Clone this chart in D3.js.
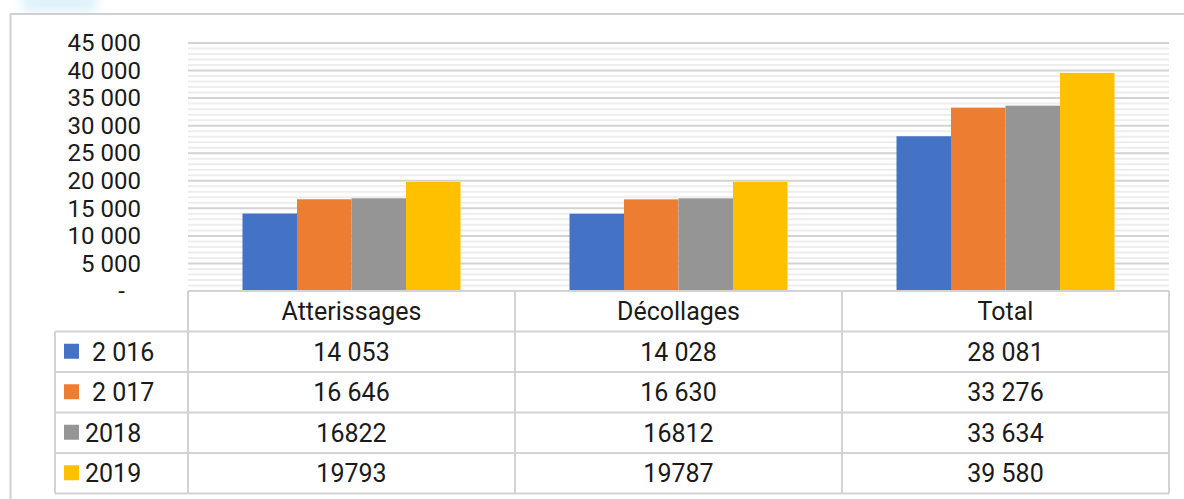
<!DOCTYPE html>
<html>
<head>
<meta charset="utf-8">
<script src="https://cdn.jsdelivr.net/npm/d3@7"></script>
<style>
  body { margin: 0; background: #fff; }
  text { font-family: Roboto, "DejaVu Sans", sans-serif; fill: #1a1a1a; }
</style>
</head>
<body>
<div id="chart"></div>
<script>
var width = 1184;
var height = 499;

// chart data
var categories = ["Atterissages", "Décollages", "Total"];
var years = ["2 016", "2 017", "2018", "2019"];
var colors = ["#4472C4", "#ED7D31", "#959595", "#FFC000"];
var values2016 = [14053, 14028, 28081];
var values2017 = [16646, 16630, 33276];
var values2018 = [16822, 16812, 33634];
var values2019 = [19793, 19787, 39580];
// table texts, as written in the source table
var labels2016 = ["14 053", "14 028", "28 081"];
var labels2017 = ["16 646", "16 630", "33 276"];
var labels2018 = ["16822", "16812", "33 634"];
var labels2019 = ["19793", "19787", "39 580"];
var yTicks = [0, 5000, 10000, 15000, 20000, 25000, 30000, 35000, 40000, 45000];

var series = [values2016, values2017, values2018, values2019];
var tableLabels = [labels2016, labels2017, labels2018, labels2019];

var plotLeft = 188, plotRight = 1169, plotTop = 43, plotBottom = 291;
var rowH = 40.5;
var gridColor = "#d3d3d3";

var svg = d3.select("#chart").append("svg")
  .attr("width", width)
  .attr("height", height);

// faint blue blur top-left
var defs = svg.append("defs");
defs.append("filter").attr("id", "blur")
  .append("feGaussianBlur").attr("stdDeviation", 6);
svg.append("rect")
  .attr("x", 22).attr("y", -10).attr("width", 75).attr("height", 22)
  .attr("fill", "#d6eef9").attr("opacity", 0.8)
  .attr("filter", "url(#blur)");

// outer frame
svg.append("line").attr("x1", 10).attr("x2", width).attr("y1", 14).attr("y2", 14)
  .attr("stroke", "#d0d0d0").attr("stroke-width", 2);
svg.append("line").attr("x1", 10.5).attr("x2", 10.5).attr("y1", 14).attr("y2", height)
  .attr("stroke", "#d0d0d0").attr("stroke-width", 2);

var y = d3.scaleLinear().domain([0, 45000]).range([plotBottom, plotTop]);
var x0 = d3.scaleBand().domain(categories).range([plotLeft, plotRight]);
var x1 = d3.scaleBand().domain(d3.range(years.length))
  .range([x0.bandwidth() / 6, x0.bandwidth() * 5 / 6]);

// minor gridlines
svg.append("g")
  .selectAll("line")
  .data(d3.range(1000, 45000, 1000).filter(function(v) { return v % 5000 != 0; }))
  .enter().append("line")
  .attr("x1", plotLeft).attr("x2", plotRight)
  .attr("y1", function(d) { return y(d); })
  .attr("y2", function(d) { return y(d); })
  .attr("stroke", "#ededed").attr("stroke-width", 2);

// major gridlines
svg.append("g")
  .selectAll("line")
  .data(yTicks.filter(function(v) { return v > 0; }))
  .enter().append("line")
  .attr("x1", plotLeft).attr("x2", plotRight)
  .attr("y1", function(d) { return y(d); })
  .attr("y2", function(d) { return y(d); })
  .attr("stroke", gridColor).attr("stroke-width", 2);

// y axis labels
var fr = d3.formatLocale({ decimal: ",", thousands: " ", grouping: [3], currency: ["", ""] });
var yAxis = d3.axisLeft(y)
  .tickValues(yTicks)
  .tickSize(0)
  .tickPadding(0)
  .tickFormat(function(d) { return d == 0 ? "-" : fr.format(",")(d); });
var yg = svg.append("g")
  .attr("transform", "translate(141,0)")
  .call(yAxis);
yg.select(".domain").remove();
yg.selectAll("text")
  .style("font-family", "Roboto, sans-serif")
  .style("font-size", "24px")
  .attr("fill", "#1a1a1a");
yg.selectAll(".tick").filter(function(d) { return d == 0; }).select("text")
  .attr("x", -16);

// bars
series.forEach(function(vals, s) {
  svg.append("g")
    .selectAll("rect")
    .data(vals)
    .enter().append("rect")
    .attr("x", function(d, i) { return x0(categories[i]) + x1(s); })
    .attr("y", function(d) { return y(d); })
    .attr("width", x1.bandwidth())
    .attr("height", function(d) { return y(0) - y(d); })
    .attr("fill", colors[s]);
});

// data table
var table = svg.append("g");
var tableLeft = 55;
var colEdges = [plotLeft].concat(categories.map(function(c) { return x0(c) + x0.bandwidth(); }));
var rowEdges = d3.range(years.length + 2).map(function(i) { return plotBottom + i * rowH; });

// horizontal lines
rowEdges.forEach(function(ry, i) {
  table.append("line")
    .attr("x1", i == 0 ? plotLeft : tableLeft)
    .attr("x2", plotRight)
    .attr("y1", ry).attr("y2", ry)
    .attr("stroke", gridColor).attr("stroke-width", 2);
});
// vertical lines
table.append("line")
  .attr("x1", tableLeft).attr("x2", tableLeft)
  .attr("y1", rowEdges[1]).attr("y2", rowEdges[rowEdges.length - 1])
  .attr("stroke", gridColor).attr("stroke-width", 2);
colEdges.forEach(function(cx) {
  table.append("line")
    .attr("x1", cx).attr("x2", cx)
    .attr("y1", plotBottom).attr("y2", rowEdges[rowEdges.length - 1])
    .attr("stroke", gridColor).attr("stroke-width", 2);
});

// header
table.selectAll(".head")
  .data(categories)
  .enter().append("text")
  .attr("x", function(d) { return x0(d) + x0.bandwidth() / 2; })
  .attr("y", plotBottom + rowH / 2)
  .attr("dy", "0.36em")
  .attr("text-anchor", "middle")
  .style("font-size", "25px")
  .text(function(d) { return d; });

// rows
years.forEach(function(yr, s) {
  var cy = plotBottom + (s + 1) * rowH + rowH / 2;
  table.append("rect")
    .attr("x", 64).attr("y", cy - 8)
    .attr("width", 15).attr("height", 15)
    .attr("fill", colors[s]);
  table.append("text")
    .attr("x", yr.indexOf(" ") > 0 ? 92 : 85)
    .attr("y", cy)
    .attr("dy", "0.36em")
    .style("font-size", "25px")
    .text(yr);
  table.selectAll(".v" + s)
    .data(tableLabels[s])
    .enter().append("text")
    .attr("x", function(d, i) { return x0(categories[i]) + x0.bandwidth() / 2; })
    .attr("y", cy)
    .attr("dy", "0.36em")
    .attr("text-anchor", "middle")
    .style("font-size", "25px")
    .text(function(d) { return d; });
});
</script>
</body>
</html>
